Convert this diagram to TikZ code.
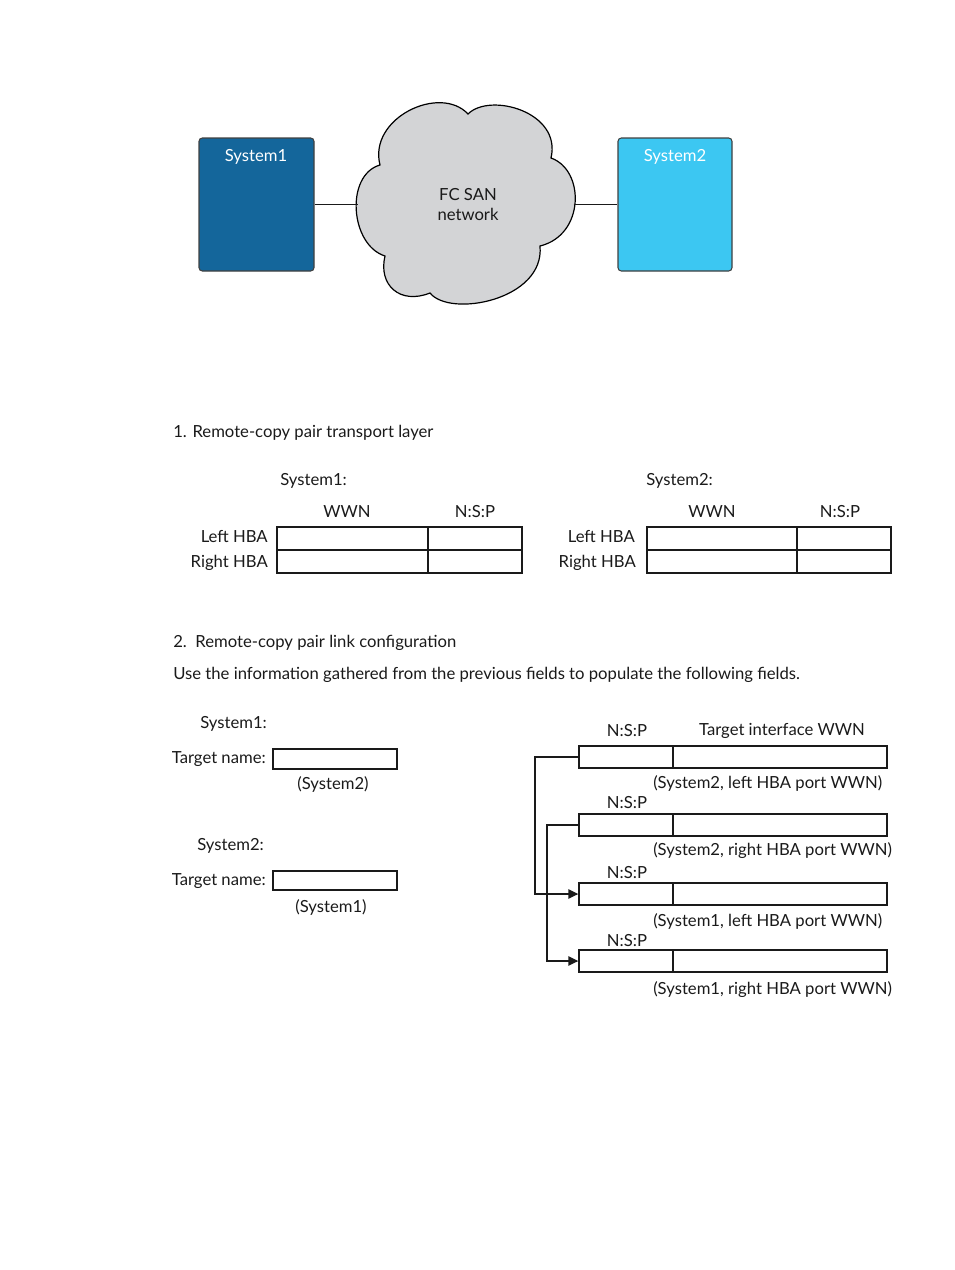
\documentclass[tikz,border=0pt]{standalone}
\usepackage{fontspec}
\setmainfont{Lato}
\usetikzlibrary{fit,arrows.meta}
\definecolor{sysone}{HTML}{14669B}
\definecolor{systwo}{HTML}{3CC7F2}
\definecolor{cloudgray}{HTML}{D3D4D6}
\definecolor{ink}{HTML}{1A1A1A}
\begin{document}
\begin{tikzpicture}[x=0.75pt,y=-0.75pt,
  txt/.style={inner sep=0pt, text=ink, yshift=-1.8pt, font=\fontsize{12.5}{15}\selectfont},
  cell/.style={draw=ink, line width=1pt, inner sep=0pt},
  sysbox/.style={draw=black!75, line width=0.8pt, rounded corners=2.5pt, inner sep=0pt},
  link/.style={draw=ink, line width=1pt},
  arr/.style={link, -{Triangle[length=7.5pt,width=7pt]}}
]
\useasboundingbox (0,0) rectangle (954,1270);

% ---------- top diagram ----------
\node[sysbox, fill=sysone, fit={(199,138) (314,271)}] (sys1) {};
\node[sysbox, fill=systwo, fit={(618,138) (732,271)}] (sys2) {};
\node[txt, text=white] (sys1t) at (256,154) {System1};
\node[txt, text=white] (sys2t) at (675,154) {System2};

\draw[fill=cloudgray, draw=black, line width=0.9pt]
  (380,165) .. controls (368,118) and (440,84) .. (468,114)
  .. controls (490,92) and (562,112) .. (551,158)
  .. controls (585,170) and (585,235) .. (540,246)
  .. controls (545,300) and (450,318) .. (430,293)
  .. controls (400,305) and (378,285) .. (385,256)
  .. controls (350,245) and (345,175) .. (380,165) -- cycle;
\coordinate (cl) at (357.5,204.5);
\coordinate (cr) at (573.5,204.5);
\node[txt, align=center] (cloud) at (468,202) {FC SAN\\[0pt]network};
\draw[link] (sys1.east |- cl) -- (cl);
\draw[link] (cr) -- (sys2.west |- cr);

% ---------- section 1 ----------
\node[txt, anchor=mid west] (h1) at (173,432) {1. Remote-copy pair transport layer};

\node[txt, anchor=mid west] (t1s) at (280,480) {System1:};
\node[txt] (t1w) at (347,509) {WWN};
\node[txt] (t1n) at (475,509) {N:S:P};
\node[cell, fit={(277,527) (428,550)}] (a11) {};
\node[cell, fit={(428,527) (522,550)}] (a12) {};
\node[cell, fit={(277,550) (428,573)}] (a21) {};
\node[cell, fit={(428,550) (522,573)}] (a22) {};
\node[txt, anchor=mid east] (t1l) at (268,537) {Left HBA};
\node[txt, anchor=mid east] (t1r) at (268,562) {Right HBA};

\node[txt, anchor=mid west] (t2s) at (646,480) {System2:};
\node[txt] (t2w) at (712,509) {WWN};
\node[txt] (t2n) at (840,509) {N:S:P};
\node[cell, fit={(647,527) (797,550)}] (b11) {};
\node[cell, fit={(797,527) (891,550)}] (b12) {};
\node[cell, fit={(647,550) (797,573)}] (b21) {};
\node[cell, fit={(797,550) (891,573)}] (b22) {};
\node[txt, anchor=mid east] (t2l) at (635,537) {Left HBA};
\node[txt, anchor=mid east] (t2r) at (636,562) {Right HBA};

% ---------- section 2 ----------
\node[txt, anchor=mid west] (h2) at (173,642) {2.\ \ Remote-copy pair link configuration};
\node[txt, anchor=mid west] (h2b) at (173,674) {Use the information gathered from the previous fields to populate the following fields.};

\node[txt, anchor=mid west] (s1) at (200,723) {System1:};
\node[txt, anchor=mid east] (tn1) at (266,758) {Target name:};
\node[cell, fit={(273,749) (397,769)}] (tb1) {};
\node[txt] (tb1l) at (333,782) {(System2)};

\node[txt, anchor=mid west] (s2) at (197,845) {System2:};
\node[txt, anchor=mid east] (tn2) at (266,880) {Target name:};
\node[cell, fit={(273,871) (397,890)}] (tb2) {};
\node[txt] (tb2l) at (331,905) {(System1)};

\node[txt] (hn) at (627,728) {N:S:P};
\node[txt] (hw) at (782,729) {Target interface WWN};

\node[cell, fit={(579,746) (673,768)}] (r1a) {};
\node[cell, fit={(673,746) (887,768)}] (r1b) {};
\node[txt, anchor=mid west] (r1l) at (653,783) {(System2, left HBA port WWN)};
\node[txt] (n2) at (627,800) {N:S:P};
\node[cell, fit={(579,814) (673,836)}] (r2a) {};
\node[cell, fit={(673,814) (887,836)}] (r2b) {};
\node[txt, anchor=mid west] (r2l) at (653,850) {(System2, right HBA port WWN)};
\node[txt] (n3) at (627,870) {N:S:P};
\node[cell, fit={(579,883) (673,905)}] (r3a) {};
\node[cell, fit={(673,883) (887,905)}] (r3b) {};
\node[txt, anchor=mid west] (r3l) at (653,921) {(System1, left HBA port WWN)};
\node[txt] (n4) at (627,938) {N:S:P};
\node[cell, fit={(579,950) (673,972)}] (r4a) {};
\node[cell, fit={(673,950) (887,972)}] (r4b) {};
\node[txt, anchor=mid west] (r4l) at (653,989) {(System1, right HBA port WWN)};

\coordinate (j1) at (535,757);
\coordinate (j2) at (547,825);
\draw[arr] (r1a.west) -- (j1) |- (r3a.west);
\draw[arr] (r2a.west) -- (j2) |- (r4a.west);
\end{tikzpicture}
\end{document}
